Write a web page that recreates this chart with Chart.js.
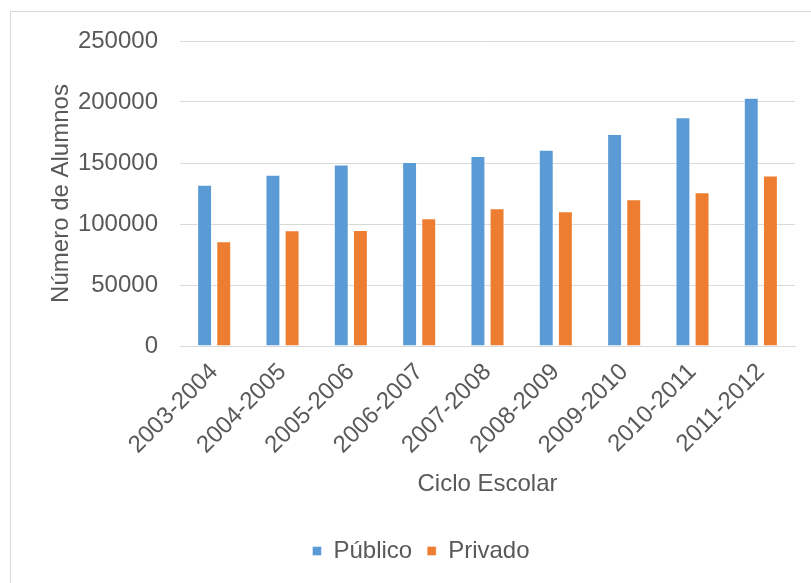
<!DOCTYPE html>
<html>
<head>
<meta charset="utf-8">
<script src="https://cdn.jsdelivr.net/npm/chart.js@4/dist/chart.umd.min.js"></script>
<style>
  html, body { margin: 0; padding: 0; background: #fff; overflow: hidden; }
  #frame { position: absolute; left: 10px; top: 11px; width: 900px; height: 700px; border: 1px solid #d9d9d9; }
  #wrap { position: absolute; left: 0; top: 0; width: 811px; height: 583px; }
</style>
</head>
<body>
<div id="frame"></div>
<div id="wrap"><canvas id="chart" width="811" height="583"></canvas></div>
<script>
const ciclos = ["2003-2004", "2004-2005", "2005-2006", "2006-2007", "2007-2008", "2008-2009", "2009-2010", "2010-2011", "2011-2012"];
const publico = [132100, 140400, 148800, 150800, 155700, 160900, 173800, 187500, 203400];
const privado = [85800, 94800, 95100, 104700, 112900, 110500, 120300, 126100, 139800];
const yTicks = [0, 50000, 100000, 150000, 200000, 250000];

const textColor = "#595959";
const gridColor = "#d9d9d9";
const font = { family: "'Liberation Sans', Arial, sans-serif", size: 24 };

new Chart(document.getElementById("chart"), {
  type: "bar",
  data: {
    labels: ciclos,
    datasets: [
      { label: "Público", data: publico, backgroundColor: "#5b9bd5", borderColor: "rgba(255,255,255,0.4)", borderWidth: 1 },
      { label: "Privado", data: privado, backgroundColor: "#ed7d31", borderColor: "rgba(255,255,255,0.4)", borderWidth: 1 },
    ],
  },
  options: {
    responsive: false,
    animation: false,
    categoryPercentage: 0.56,
    barPercentage: 0.78,
    layout: { padding: { left: 47, right: 16, top: 41, bottom: 10 } },
    plugins: {
      legend: {
        position: "bottom",
        labels: { color: textColor, font: font, boxWidth: 9, boxHeight: 9, padding: 15 },
      },
      tooltip: { enabled: false },
    },
    scales: {
      x: {
        grid: { display: false, drawTicks: false },
        border: { color: gridColor },
        ticks: { color: textColor, font: font, minRotation: 45, maxRotation: 45, padding: 12 },
        title: { display: true, text: "Ciclo Escolar", color: textColor, font: font, padding: { top: 6, bottom: 25 } },
        afterFit: (scale) => { scale.height = 178; },
      },
      y: {
        min: 0,
        max: 250000,
        afterBuildTicks: (scale) => { scale.ticks = yTicks.map((v) => ({ value: v })); },
        grid: { color: gridColor, drawTicks: false },
        border: { display: false },
        ticks: { color: textColor, font: font, padding: 22, callback: (v) => String(v) },
        title: { display: true, text: "Número de Alumnos", color: textColor, font: font, padding: { top: 0, bottom: 0 } },
        afterFit: (scale) => { scale.width = 133; },
      },
    },
  },
});
</script>
</body>
</html>
